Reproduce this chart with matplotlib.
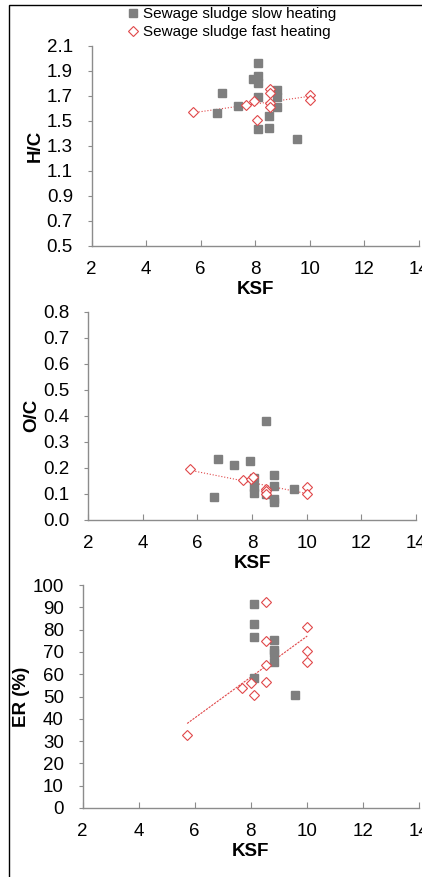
import numpy as np
import matplotlib
matplotlib.use("Agg")
import matplotlib.pyplot as plt
from matplotlib.patches import Rectangle

plt.rcParams["font.family"] = ["Liberation Sans", "DejaVu Sans"]

# H/C panel
ksf_slow_hc = [6.61, 6.77, 7.37, 7.91, 8.09, 8.09, 8.09, 8.09, 8.09, 8.52, 8.52, 8.81, 8.81, 8.81, 9.55]
hc_slow = [1.559, 1.722, 1.617, 1.836, 1.959, 1.857, 1.800, 1.686, 1.430, 1.534, 1.439, 1.745, 1.690, 1.608, 1.350]
ksf_fast_hc = [5.71, 7.66, 7.96, 8.08, 8.54, 8.54, 8.54, 8.54, 10.01, 10.01]
hc_fast = [1.568, 1.623, 1.661, 1.505, 1.752, 1.720, 1.640, 1.610, 1.704, 1.666]

# O/C panel
ksf_slow_oc = [6.60, 6.76, 7.33, 7.93, 8.08, 8.08, 8.08, 8.51, 8.51, 8.81, 8.81, 8.81, 8.81, 9.55]
oc_slow = [0.090, 0.235, 0.210, 0.227, 0.162, 0.125, 0.105, 0.381, 0.100, 0.171, 0.130, 0.080, 0.070, 0.120]
ksf_fast_oc = [5.71, 7.66, 7.96, 8.05, 8.52, 8.52, 8.52, 10.01, 10.01]
oc_fast = [0.197, 0.153, 0.159, 0.164, 0.120, 0.110, 0.100, 0.128, 0.099]

# ER panel
ksf_slow_er = [8.11, 8.11, 8.11, 8.11, 8.83, 8.83, 8.83, 8.83, 9.58]
er_slow = [91.5, 82.4, 76.5, 58.3, 75.4, 71.0, 69.3, 65.4, 50.7]
ksf_fast_er = [5.73, 7.68, 8.00, 8.10, 8.55, 8.55, 8.55, 8.55, 10.02, 10.02, 10.02]
er_fast = [32.9, 53.8, 56.1, 50.5, 92.2, 74.7, 64.3, 56.5, 81.0, 70.4, 65.5]

x_ticks = [2, 4, 6, 8, 10, 12, 14]
hc_ticks = [0.5, 0.7, 0.9, 1.1, 1.3, 1.5, 1.7, 1.9, 2.1]
oc_ticks = [0.0, 0.1, 0.2, 0.3, 0.4, 0.5, 0.6, 0.7, 0.8]
er_ticks = [0, 10, 20, 30, 40, 50, 60, 70, 80, 90, 100]

labels = ["Sewage sludge slow heating", "Sewage sludge fast heating"]
gray = "#7f7f7f"
red = "#e0484a"
spine_c = "#8c8c8c"

W, H = 422, 877
fig = plt.figure(figsize=(W / 100, H / 100), dpi=100)


def px_axes(left, right, top, bottom):
    return fig.add_axes([left / W, 1 - bottom / H, (right - left) / W, (bottom - top) / H])


def panel(ax, xs, ys, xf, yf, yticks, fmt, ylabel, ls):
    s = ax.plot(xs, ys, "s", color=gray, ms=5.2, mec=gray, label=labels[0], clip_on=False)[0]
    f = ax.plot(xf, yf, "D", mfc="white", mec=red, mew=0.8, ms=4.8, label=labels[1], clip_on=False)[0]
    k, b = np.polyfit(xf, yf, 1)
    xl = np.array([min(xf), max(xf)])
    ax.plot(xl, k * xl + b, color=red, lw=0.8, ls=ls, zorder=1)
    ax.set_xlim(2, 14)
    ax.set_ylim(yticks[0], yticks[-1])
    ax.set_xticks(x_ticks)
    ax.set_yticks(yticks)
    ax.set_yticklabels([fmt.format(t) for t in yticks])
    for sp in ["top", "right"]:
        ax.spines[sp].set_visible(False)
    for sp in ["left", "bottom"]:
        ax.spines[sp].set_color(spine_c)
        ax.spines[sp].set_linewidth(1.0)
    ax.tick_params(axis="x", direction="in", length=4, color=spine_c, labelsize=13.5, pad=11)
    ax.tick_params(axis="y", direction="out", length=3, color=spine_c, labelsize=13.5, pad=10.5)
    ax.set_xlabel("KSF", fontsize=13.5, fontweight="bold", labelpad=2)
    ax.set_ylabel(ylabel, fontsize=13.5, fontweight="bold", labelpad=2)
    return s, f


ax1 = px_axes(91.7, 418.7, 45.7, 245.7)
h1 = panel(ax1, ksf_slow_hc, hc_slow, ksf_fast_hc, hc_fast, hc_ticks, "{:.1f}", "H/C", ":")

ax2 = px_axes(88.3, 415.7, 311.7, 520.0)
panel(ax2, ksf_slow_oc, oc_slow, ksf_fast_oc, oc_fast, oc_ticks, "{:.1f}", "O/C", ":")

ax3 = px_axes(82.7, 418.7, 585.0, 808.0)
panel(ax3, ksf_slow_er, er_slow, ksf_fast_er, er_fast, er_ticks, "{:d}", "ER (%)", (0, (2, 1)))

fig.legend(handles=list(h1), labels=labels, loc="upper left",
           bbox_to_anchor=(127 / W, 1 - 7 / H), frameon=False, fontsize=11,
           handlelength=0.8, handletextpad=0.25, labelspacing=0.28, borderpad=0,
           borderaxespad=0)

fig.patches.append(Rectangle((9 / W, -0.05), 1.2, 1 - 5 / H + 0.05, transform=fig.transFigure,
                             fill=False, edgecolor="black", lw=1.0, zorder=10))

fig.savefig("out.png", dpi=100)
